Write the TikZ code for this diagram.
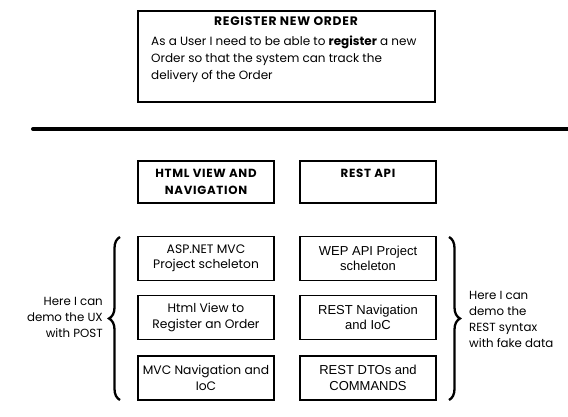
\documentclass[tikz,border=0pt]{standalone}
\usepackage{fontspec}
\setmainfont{Poppins}
\newfontfamily\arialf{Liberation Sans}
\usetikzlibrary{decorations.pathreplacing}
\begin{document}
\begin{tikzpicture}[x=1pt,y=-1pt,
  sk/.style={draw=black, line width=1.8pt, inner sep=0pt, minimum width=136pt},
  bal/.style={font=\fontsize{12.3}{15.5}\selectfont, align=center},
  ari/.style={font=\arialf\fontsize{13}{15.5}\selectfont, align=center},
  hdr/.style={font=\bfseries\fontsize{11.8}{17}\selectfont\addfontfeature{LetterSpace=6}, align=center},
  note/.style={inner sep=0pt, font=\fontsize{11.8}{16}\selectfont},
  brc/.style={draw, decorate, decoration={brace, amplitude=11pt}, line width=2.3pt},
]
\useasboundingbox (0,0) rectangle (568,417);
% story card
\node[draw=black, line width=1.8pt, minimum width=297pt, minimum height=91pt] (story) at (286.5,56.5) {};
\node[font=\bfseries\fontsize{12.3}{14}\selectfont\addfontfeature{LetterSpace=6}] (storytitle) at (286,21) {REGISTER NEW ORDER};
\node[anchor=north west, align=left, inner sep=0pt, font=\fontsize{12}{17}\selectfont] (storytext) at (151,35.5)
 {As a User I need to be able to \textbf{register} a new\\Order so that the system can track the\\delivery of the Order};
% separator
\coordinate (sepl) at (33,129);
\coordinate (sepr) at (570,129);
\draw[line width=4pt, line cap=round] (sepl) -- (sepr);
% headers
\node[sk, hdr, minimum height=42pt] (html) at (206,182) {HTML VIEW AND\\NAVIGATION};
\node[sk, hdr, minimum height=42pt] (rest) at (368,182) {REST API\\\phantom{N}};
% left column
\node[sk, bal, minimum height=44pt] (asp) at (206,258.5) {ASP.NET MVC\\Project scheleton};
\node[sk, bal, minimum height=44pt] (view) at (206,317.5) {Html View to\\Register an Order};
\node[sk, bal, minimum height=44pt] (mvcnav) at (206,378) {MVC Navigation and\\IoC};
% right column
\node[sk, ari, minimum height=44pt] (wep) at (368,258.5) {WEP API Project\\scheleton};
\node[sk, ari, minimum height=44pt] (restnav) at (368,317.5) {REST Navigation\\and IoC};
\node[sk, ari, minimum height=44pt] (dto) at (368,378) {REST DTOs and\\COMMANDS};
% braces
\coordinate (lbb) at (120,400);
\coordinate (lbt) at (120,237);
\coordinate (rbt) at (449,237);
\coordinate (rbb) at (449,400);
\draw[brc] (lbb) -- (lbt);
\draw[brc] (rbt) -- (rbb);
% notes
\node[note, anchor=east, align=right] (lnote) at (103,317) {Here I can\\demo the UX\\with POST};
\node[note, anchor=west, align=left] (rnote) at (469,319.5) {Here I can\\demo the\\REST syntax\\with fake data};
\end{tikzpicture}
\end{document}
